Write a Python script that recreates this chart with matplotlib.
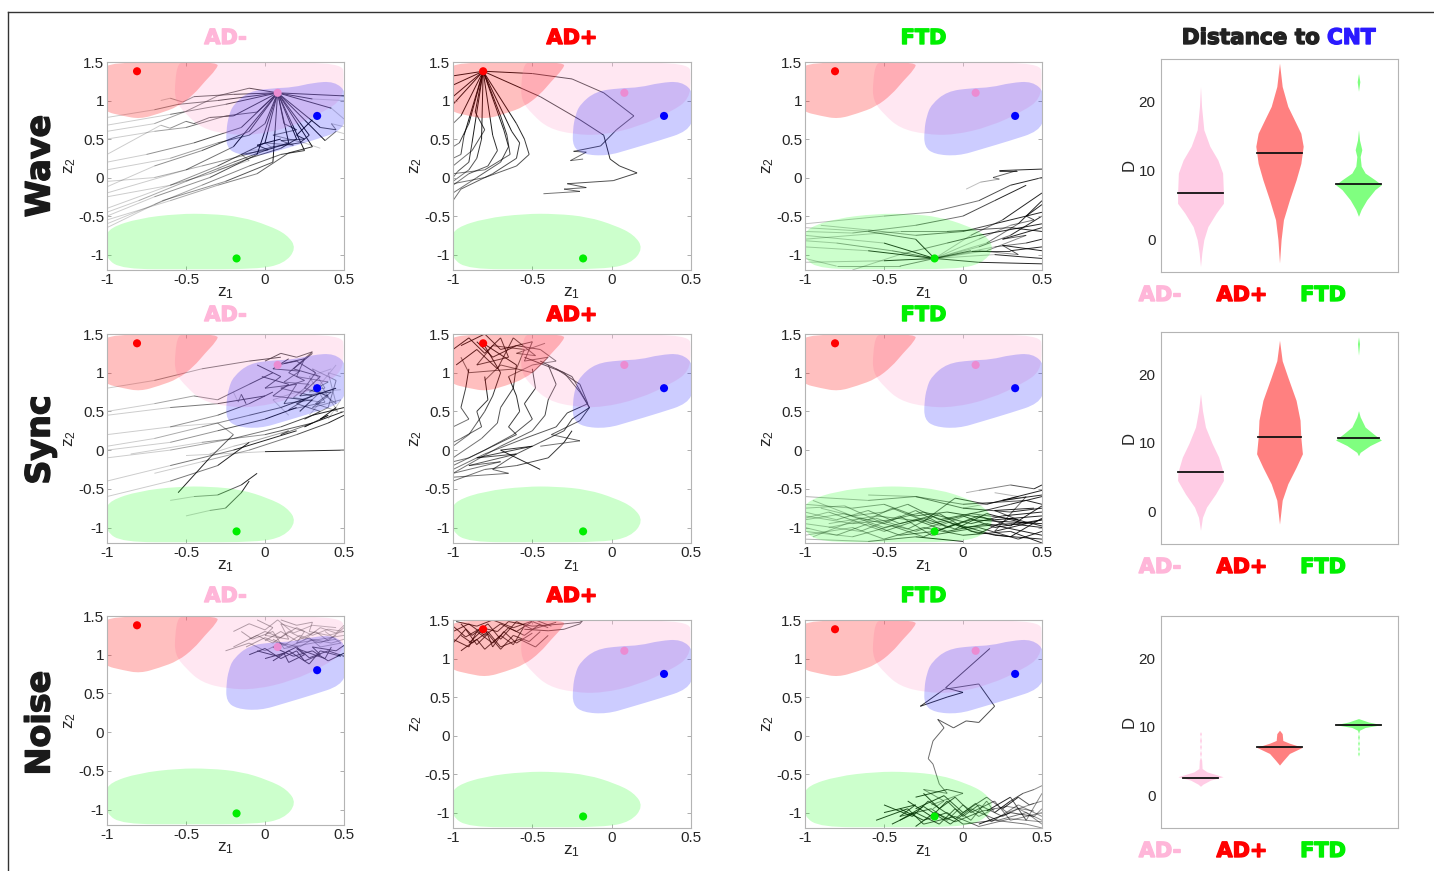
import numpy as np
import matplotlib
matplotlib.use("Agg")
import matplotlib.pyplot as plt
import matplotlib.patheffects as pe
from matplotlib.path import Path
from matplotlib.patches import PathPatch
from matplotlib.collections import LineCollection
from matplotlib.lines import Line2D

W, H = 1434, 871
plt.rcParams["font.family"] = ["Liberation Sans", "DejaVu Sans"]
plt.rcParams["mathtext.default"] = "regular"


def heavy(color, stroke=1.0):
    # bold DejaVu plus a thin stroke to get closer to the very heavy titles
    return dict(family=["DejaVu Sans"], fontweight="bold", color=color,
                path_effects=[pe.withStroke(linewidth=stroke, foreground=color)])


ROWS = ["Wave", "Sync", "Noise"]
GROUPS = ["AD-", "AD+", "FTD"]
GROUP_COLORS = ["#FFB6D9", "#FF0000", "#00F000"]
VIOLIN_COLORS = ["#FFCCE5", "#FF8080", "#80FF80"]

# centroids in (z1, z2): AD+, AD-, CNT, FTD
CENT_Z1 = [-0.81, 0.08, 0.33, -0.18]
CENT_Z2 = [1.38, 1.10, 0.80, -1.05]
CENT_COLORS = ["#FF0000", "#EB8CD2", "#0000FF", "#00EE00"]

# region outlines (control points of a smooth closed curve)
PINK_Z1 = [-0.50, 0.00, 0.49, 0.50, 0.49, 0.38, 0.17, -0.06, -0.24, -0.40, -0.50, -0.57, -0.57, -0.55]
PINK_Z2 = [1.49, 1.49, 1.49, 1.30, 1.02, 0.86, 0.66, 0.55, 0.56, 0.64, 0.82, 1.00, 1.25, 1.49]
RED_Z1 = [-1.02, -0.65, -0.29, -0.31, -0.38, -0.45, -0.55, -0.67, -0.79, -0.90, -1.02, -1.03, -1.03]
RED_Z2 = [1.49, 1.49, 1.50, 1.40, 1.25, 1.08, 0.92, 0.83, 0.76, 0.80, 0.86, 1.00, 1.30]
BLUE_Z1 = [-0.20, -0.10, 0.05, 0.18, 0.30, 0.44, 0.52, 0.52, 0.48, 0.30, 0.12, -0.03, -0.18, -0.245, -0.245, -0.23]
BLUE_Z2 = [0.95, 1.12, 1.16, 1.17, 1.23, 1.25, 1.10, 0.80, 0.60, 0.48, 0.37, 0.28, 0.30, 0.40, 0.62, 0.80]
GREEN_Z1 = [-0.98, -0.80, -0.55, -0.35, -0.15, 0.02, 0.14, 0.20, 0.12, -0.05, -0.50, -0.90, -1.01, -1.01]
GREEN_Z2 = [-0.65, -0.53, -0.47, -0.47, -0.51, -0.62, -0.74, -0.92, -1.12, -1.19, -1.19, -1.19, -1.05, -0.78]

# trajectories, each listed from its dark (recent) end
WAVE_ADM = [
    [(0.08, 1.10), (0.42, 0.90), (0.50, 0.76)],
    [(0.08, 1.10), (0.30, 1.02), (0.50, 1.00)],
    [(0.08, 1.10), (0.50, 1.06)],
    [(0.08, 1.10), (0.35, 0.65), (0.45, 0.62), (0.42, 0.70), (0.50, 0.66)],
    [(0.08, 1.10), (0.38, 0.48), (0.45, 0.60), (0.50, 0.57)],
    [(0.08, 1.10), (0.28, 0.55), (0.22, 0.45), (0.05, 0.40), (-0.15, 0.28), (-0.40, 0.15), (-0.70, 0.00), (-1.00, -0.05)],
    [(0.08, 1.10), (0.20, 0.50), (0.10, 0.38), (-0.10, 0.25), (-0.35, 0.05), (-0.60, -0.10), (-1.00, -0.25)],
    [(0.08, 1.10), (0.00, 0.70), (-0.10, 0.55), (-0.30, 0.45), (-0.60, 0.25), (-1.00, 0.10)],
    [(0.08, 1.10), (-0.05, 0.85), (-0.25, 0.80), (-0.50, 0.65), (-0.70, 0.60), (-1.00, 0.50)],
    [(0.08, 1.10), (-0.30, 1.00), (-0.55, 0.95), (-0.70, 0.88), (-1.00, 0.78)],
    [(0.08, 1.10), (-0.20, 1.08), (-0.45, 1.05), (-0.52, 0.98), (-0.60, 1.03), (-0.66, 1.00)],
    [(0.08, 1.10), (0.15, 0.45), (0.00, 0.35), (-0.20, 0.20), (-0.50, -0.05), (-0.80, -0.30), (-1.00, -0.45)],
    [(0.08, 1.10), (0.25, 0.35), (0.10, 0.30), (-0.10, 0.15), (-0.40, -0.10), (-0.70, -0.35), (-1.00, -0.60)],
    [(0.08, 1.10), (0.30, 0.40), (0.15, 0.32), (-0.05, 0.05), (-0.30, -0.10), (-0.60, -0.30), (-1.00, -0.55)],
    [(0.08, 1.10), (-0.10, 1.16), (-0.30, 1.06), (-0.50, 0.86), (-0.70, 0.70), (-1.00, 0.60)],
    [(0.08, 1.10), (-0.20, 0.80), (-0.35, 0.78), (-0.45, 0.70), (-0.50, 0.73), (-0.60, 0.64), (-0.66, 0.68), (-1.00, 0.30)],
    [(0.08, 1.10), (0.00, 0.45), (-0.30, 0.15), (-0.60, -0.10), (-1.00, -0.40)],
    [(0.08, 1.10), (-0.20, 0.40), (-0.50, 0.10), (-1.00, -0.20)],
    [(0.30, 0.75), (0.20, 0.55), (0.25, 0.50), (0.10, 0.48), (0.18, 0.42), (0.00, 0.45), (0.05, 0.38), (-0.10, 0.35)],
    [(0.08, 1.10), (0.12, 0.70), (0.20, 0.62), (0.05, 0.55), (0.25, 0.45), (0.35, 0.38)],
    [(0.08, 1.10), (-0.10, 0.60), (-0.40, 0.35), (-0.70, 0.15), (-1.00, -0.12)],
    [(0.08, 1.10), (-0.15, 0.65), (-0.45, 0.45), (-0.75, 0.30), (-1.00, 0.20)],
    [(0.08, 1.10), (-0.05, 0.30), (-0.35, 0.00), (-0.70, -0.25), (-1.00, -0.50)],
    [(0.08, 1.10), (-0.25, 0.95), (-0.60, 0.82), (-1.00, 0.68)],
    [(0.08, 1.10), (0.05, 0.20), (-0.25, -0.05), (-0.65, -0.30), (-1.00, -0.65)],
    [(0.10, 0.50), (-0.05, 0.42), (0.02, 0.36), (-0.15, 0.30), (-0.10, 0.22), (-0.30, 0.10)],
]
WAVE_ADP = [
    [(-0.81, 1.38), (-1.00, 1.32)],
    [(-0.81, 1.38), (-1.00, 1.20)],
    [(-0.81, 1.38), (-1.00, 1.05)],
    [(-0.81, 1.38), (-1.00, 0.95)],
    [(-0.81, 1.38), (-0.95, 0.80), (-1.00, 0.70)],
    [(-0.81, 1.38), (-0.90, 0.70), (-0.96, 0.45), (-1.00, 0.40)],
    [(-0.81, 1.38), (-0.93, 0.55), (-0.95, 0.30), (-1.00, 0.25)],
    [(-0.81, 1.38), (-0.88, 0.45), (-0.90, 0.20), (-0.97, 0.08), (-1.00, 0.00)],
    [(-0.81, 1.38), (-0.82, 0.50), (-0.85, 0.25), (-0.90, 0.10), (-1.00, -0.05)],
    [(-0.81, 1.38), (-0.75, 0.55), (-0.72, 0.35), (-0.78, 0.15), (-0.90, 0.05), (-1.00, -0.10)],
    [(-0.81, 1.38), (-0.68, 0.62), (-0.65, 0.40), (-0.70, 0.20), (-0.85, 0.00), (-1.00, -0.20)],
    [(-0.81, 1.38), (-0.63, 0.60), (-0.58, 0.45), (-0.60, 0.25), (-0.75, 0.05), (-0.95, -0.15), (-1.00, -0.30)],
    [(-0.81, 1.38), (-0.60, 0.70), (-0.55, 0.50), (-0.52, 0.30), (-0.60, 0.15), (-0.80, 0.00), (-1.00, -0.08)],
    [(-0.81, 1.38), (-0.70, 0.80), (-0.66, 0.55), (-0.64, 0.30), (-0.80, 0.10), (-1.00, 0.05)],
    [(-0.81, 1.38), (-0.86, 0.85), (-0.80, 0.62), (-0.88, 0.35), (-1.00, 0.15)],
    [(-0.81, 1.38), (-0.50, 1.35), (-0.25, 1.28), (-0.05, 1.10), (0.14, 0.80), (0.03, 0.62), (-0.07, 0.41),
     (-0.24, 0.34), (-0.16, 0.33), (-0.26, 0.22), (-0.18, 0.24)],
    [(-0.81, 1.38), (-0.45, 1.05), (-0.20, 0.75), (-0.05, 0.55), (-0.01, 0.24), (0.05, 0.15), (0.16, 0.06),
     (0.01, -0.04), (-0.28, -0.08), (-0.16, -0.13), (-0.30, -0.15), (-0.20, -0.18), (-0.43, -0.21)],
]
WAVE_FTD = [
    [(0.50, 0.00), (0.30, -0.10), (0.10, -0.30), (-0.20, -0.45), (-0.50, -0.50), (-1.00, -0.60)],
    [(-0.18, -1.05), (-0.30, -0.80), (-0.60, -0.70), (-1.00, -0.65)],
    [(-0.18, -1.05), (-0.50, -0.85), (-1.00, -0.75)],
    [(-0.18, -1.05), (-0.60, -0.95), (-1.00, -0.90)],
    [(-0.18, -1.05), (-0.50, -1.08), (-1.00, -1.10)],
    [(0.50, -0.50), (0.30, -0.75), (0.10, -0.90), (-0.18, -1.05)],
    [(0.50, -0.30), (0.35, -0.60), (0.15, -0.85), (-0.18, -1.05)],
    [(0.50, -1.05), (0.20, -1.00), (-0.18, -1.05)],
    [(0.50, -0.80), (0.40, -0.85), (0.20, -0.90), (-0.18, -1.05)],
    [(0.50, -0.20), (0.25, -0.55), (0.05, -0.75), (-0.18, -1.05)],
    [(0.50, -1.12), (0.10, -1.10), (-0.18, -1.05), (-0.45, -0.95), (-0.80, -0.85), (-1.00, -0.82)],
    [(0.50, -0.45), (0.20, -0.60), (0.00, -0.70), (-0.30, -0.75), (-0.60, -0.68), (-0.90, -0.62)],
    [(0.50, 0.11), (0.23, 0.09), (0.34, 0.09), (0.19, 0.00), (0.23, -0.02), (0.11, -0.06), (0.02, -0.15)],
    [(0.50, -0.60), (0.10, -0.75), (-0.10, -0.85), (-0.40, -1.00), (-0.70, -1.20)],
    [(0.50, -0.70), (0.30, -0.65), (-0.10, -0.70), (-0.40, -0.70), (-1.00, -0.80)],
    [(0.50, -0.90), (0.30, -0.95), (0.05, -0.95), (-0.18, -1.05), (-0.40, -1.15), (-0.80, -1.15), (-1.00, -1.05)],
    [(0.50, -0.35), (0.40, -0.50), (0.45, -0.55), (0.30, -0.62), (0.10, -0.80), (-0.18, -1.05)],
    [(0.50, -0.65), (0.25, -0.80), (0.40, -0.75), (0.15, -0.95), (-0.18, -1.05)],
    [(0.40, -0.10), (0.20, -0.30), (0.00, -0.50), (-0.30, -0.62), (-0.70, -0.72), (-1.00, -0.70)],
    [(0.50, -0.95), (0.25, -0.88), (0.35, -1.00), (0.10, -0.95), (-0.18, -1.05)],
]
SYNC_ADM = [
    [(0.00, 1.15), (0.10, 1.25), (0.20, 1.20), (0.30, 1.27), (0.15, 1.00), (0.25, 0.90), (0.10, 0.80), (0.30, 0.70),
     (0.20, 0.60), (0.35, 0.50), (0.25, 0.40), (0.40, 0.55), (0.45, 0.90), (0.30, 1.05), (0.38, 0.80), (0.20, 0.75),
     (0.05, 0.65), (0.15, 0.45)],
    [(-0.05, 1.10), (0.10, 0.95), (0.00, 0.80), (0.20, 0.85), (0.12, 0.60), (0.30, 0.65), (0.22, 0.50), (0.35, 0.75),
     (0.45, 0.60), (0.40, 1.00), (0.48, 0.95)],
    [(0.08, 1.10), (0.20, 1.15), (0.32, 1.00), (0.25, 0.80), (0.40, 0.70), (0.30, 0.55), (0.48, 0.65), (0.40, 0.40)],
    [(0.15, 1.18), (0.05, 1.05), (0.22, 1.02), (0.12, 0.88), (0.28, 0.85), (0.18, 0.68), (0.35, 0.62), (0.28, 0.45)],
    [(0.30, 1.25), (0.18, 1.05), (0.35, 0.95), (0.22, 0.70), (0.42, 0.75), (0.32, 0.60), (0.46, 0.50), (0.35, 0.85),
     (0.45, 1.10)],
    [(-0.02, 0.95), (0.15, 0.85), (0.05, 0.70), (0.25, 0.65), (0.15, 0.52), (0.38, 0.62), (0.28, 0.95), (0.42, 1.05)],
    [(0.12, 1.12), (0.25, 1.18), (0.20, 0.95), (0.40, 0.88), (0.28, 0.75), (0.48, 0.78)],
    [(0.10, 1.20), (-0.10, 1.15), (-0.40, 1.05), (-0.70, 0.90), (-1.00, 0.80)],
    [(0.05, 1.00), (-0.10, 0.85), (-0.30, 0.65), (-0.45, 0.70), (-0.70, 0.60), (-1.00, 0.50)],
    [(0.00, 0.70), (-0.30, 0.60), (-0.60, 0.55), (-1.00, 0.45)],
    [(0.05, 0.75), (-0.10, 0.60), (-0.30, 0.45), (-0.60, 0.30), (-1.00, 0.20)],
    [(0.20, 0.55), (0.00, 0.40), (-0.30, 0.25), (-0.60, 0.10), (-1.00, 0.00)],
    [(0.50, 0.55), (0.30, 0.45), (0.10, 0.30), (-0.20, 0.15), (-0.60, 0.00), (-1.00, -0.10)],
    [(0.50, 0.50), (0.30, 0.35), (0.00, 0.20), (-0.40, 0.10), (-0.85, -0.05)],
    [(0.50, 0.45), (0.40, 0.35), (0.20, 0.20), (-0.10, 0.00), (-0.40, -0.15), (-0.70, -0.30)],
    [(0.50, 0.00), (0.00, -0.02), (-0.50, -0.07)],
    [(0.20, 0.25), (-0.20, 0.00), (-0.60, -0.20), (-1.00, -0.40)],
    [(-0.10, 0.10), (-0.30, -0.20), (-0.60, -0.40), (-1.00, -0.60)],
    [(-0.05, -0.30), (-0.15, -0.45), (-0.30, -0.58), (-0.45, -0.60), (-0.60, -0.65)],
    [(-0.10, -0.40), (-0.15, -0.55), (-0.25, -0.75), (-0.35, -0.78), (-0.50, -0.85)],
    [(-0.55, -0.55), (-0.35, -0.10), (-0.20, 0.20), (-0.30, 0.35), (-0.60, 0.30)],
    [(-0.12, 0.60), (-0.15, 0.72), (-0.17, 0.62), (-0.20, 0.75)],
    [(0.45, 0.80), (0.30, 0.70), (0.10, 0.55), (-0.10, 0.45), (-0.40, 0.30), (-0.70, 0.15), (-1.00, 0.05)],
    [(0.45, 0.55), (0.35, 0.40), (0.40, 0.45), (0.25, 0.30), (0.30, 0.35), (0.10, 0.20), (0.15, 0.25), (-0.10, 0.10),
     (-0.20, 0.05), (-0.35, -0.05)],
]
SYNC_ADP = [
    [(-1.00, 1.30), (-0.90, 1.45), (-0.80, 1.25), (-0.70, 1.45), (-0.65, 1.20), (-0.85, 1.10), (-0.75, 1.35),
     (-0.55, 1.30), (-0.60, 1.05), (-0.90, 1.00), (-0.95, 1.20)],
    [(-0.95, 1.35), (-0.80, 1.50), (-0.70, 1.30), (-0.50, 1.40), (-0.55, 1.15), (-0.40, 1.20), (-0.50, 1.00),
     (-0.70, 1.10), (-0.80, 0.90)],
    [(-0.85, 1.40), (-0.75, 1.20), (-0.60, 1.35), (-0.45, 1.30), (-0.35, 1.15), (-0.50, 1.10), (-0.65, 0.95)],
    [(-0.98, 1.10), (-0.85, 1.30), (-0.72, 1.05), (-0.62, 1.45), (-0.48, 1.22), (-0.60, 1.25), (-0.42, 1.38)],
    [(-0.81, 1.38), (-0.70, 1.00), (-0.75, 0.70), (-0.80, 0.50), (-0.85, 0.35), (-0.90, 0.20), (-1.00, 0.05)],
    [(-0.81, 1.38), (-0.60, 1.10), (-0.62, 0.80), (-0.70, 0.55), (-0.72, 0.35), (-0.82, 0.15), (-1.00, -0.10)],
    [(-0.50, 1.05), (-0.48, 0.80), (-0.55, 0.60), (-0.50, 0.40), (-0.62, 0.20), (-0.80, 0.00), (-1.00, -0.20)],
    [(-0.40, 1.10), (-0.35, 0.85), (-0.40, 0.65), (-0.42, 0.45), (-0.50, 0.25), (-0.70, 0.05), (-1.00, -0.30)],
    [(-0.45, 1.15), (-0.25, 0.95), (-0.14, 0.55), (-0.25, 0.40), (-0.30, 0.25), (-0.45, 0.10), (-0.60, -0.05),
     (-0.75, -0.25), (-0.65, -0.30), (-1.00, -0.35)],
    [(-0.55, 1.20), (-0.30, 1.00), (-0.20, 0.75), (-0.14, 0.55), (-0.20, 0.38), (-0.38, 0.20), (-0.20, 0.12),
     (-0.45, 0.05)],
    [(-0.90, 1.05), (-0.92, 0.80), (-0.95, 0.55), (-0.90, 0.40), (-1.00, 0.30)],
    [(-0.80, 0.95), (-0.78, 0.65), (-0.85, 0.50), (-0.82, 0.30), (-0.95, 0.15), (-1.00, 0.10)],
    [(-0.65, 0.95), (-0.60, 0.70), (-0.58, 0.50), (-0.65, 0.30), (-0.60, 0.20), (-0.75, 0.05), (-0.90, -0.10),
     (-1.00, -0.15)],
    [(-0.45, -0.25), (-0.70, 0.00), (-0.50, 0.05), (-0.85, -0.10), (-0.60, -0.05), (-0.90, -0.20), (-0.70, -0.15),
     (-1.00, -0.30)],
    [(-0.25, 0.25), (-0.30, 0.10), (-0.40, -0.10), (-0.60, -0.20), (-0.80, -0.25), (-1.00, -0.40)],
    [(-0.35, 1.05), (-0.20, 0.85), (-0.15, 0.60), (-0.28, 0.48), (-0.35, 0.30), (-0.55, 0.15), (-0.80, -0.05),
     (-1.00, -0.25)],
]
SYNC_FTD = [
    [(0.50, -0.75), (0.30, -0.80), (0.00, -0.75), (-0.30, -0.60), (-0.60, -0.65), (-1.00, -0.60)],
    [(0.50, -0.85), (0.20, -0.90), (-0.10, -0.80), (-0.30, -0.85), (-0.50, -0.70), (-0.70, -0.75), (-1.00, -0.70)],
    [(0.50, -1.00), (0.30, -0.95), (0.00, -1.00), (-0.20, -0.85), (-0.40, -0.95), (-0.60, -0.78), (-0.80, -0.90),
     (-1.00, -0.80)],
    [(0.50, -1.10), (0.15, -0.95), (-0.10, -1.05), (-0.30, -0.90), (-0.50, -1.00), (-0.75, -0.82), (-1.00, -0.90)],
    [(0.50, -0.95), (0.05, -0.90), (-0.18, -1.05), (-0.40, -1.10), (-0.60, -0.95), (-0.80, -1.10), (-1.00, -1.00)],
    [(0.50, -1.20), (0.30, -1.05), (0.00, -1.10), (-0.25, -1.00), (-0.50, -1.15), (-0.70, -1.00), (-1.00, -1.10)],
    [(0.50, -0.60), (0.30, -0.70), (0.10, -0.80), (-0.15, -0.90), (-0.35, -0.70), (-0.50, -0.80), (-0.70, -0.85),
     (-0.95, -0.65)],
    [(0.50, -0.90), (0.20, -1.00), (0.00, -0.85), (-0.20, -0.95), (-0.45, -0.75), (-0.60, -0.90), (-0.90, -0.75)],
    [(0.50, -1.05), (0.35, -1.15), (0.10, -1.00), (-0.20, -1.10), (-0.40, -0.85), (-0.65, -1.05), (-1.00, -0.95)],
    [(0.50, -0.45), (0.45, -0.50), (0.30, -0.45), (0.10, -0.52), (0.02, -0.55)],
    [(0.50, -0.58), (0.25, -0.65), (0.35, -0.60), (0.20, -0.55)],
    [(0.50, -0.70), (0.40, -0.65), (0.00, -0.70), (-0.30, -0.60), (-0.60, -0.58)],
    [(0.50, -0.90), (0.20, -1.05), (0.40, -0.60), (0.00, -0.75)],
    [(0.00, -1.18), (-0.30, -1.12), (-0.60, -1.18), (-1.00, -1.15)],
    [(0.50, -0.80), (0.25, -0.85), (0.05, -0.95), (-0.25, -0.80), (-0.45, -0.90), (-0.70, -0.95), (-1.00, -0.85)],
    [(0.50, -0.98), (0.30, -0.88), (0.10, -1.08), (-0.10, -0.92), (-0.30, -1.05), (-0.55, -0.88), (-0.85, -1.00)],
    [(0.45, -0.75), (0.20, -0.78), (0.35, -0.90), (0.05, -0.82), (-0.15, -0.98), (-0.35, -0.82)],
    [(0.50, -0.72), (0.30, -0.98), (0.10, -0.85), (-0.10, -1.00), (-0.30, -0.78), (-0.50, -0.95), (-0.75, -0.72),
     (-1.00, -0.75)],
    [(0.50, -1.15), (0.20, -1.10), (-0.05, -0.95), (-0.25, -1.12), (-0.45, -0.98), (-0.70, -1.12), (-1.00, -1.05)],
    [(0.50, -0.52), (0.15, -0.70), (-0.05, -0.62), (-0.25, -0.92), (-0.55, -0.85), (-0.85, -0.95)],
    [(0.40, -0.95), (0.15, -0.82), (-0.05, -1.02), (-0.25, -0.88), (-0.50, -1.05), (-0.85, -0.80), (-1.00, -0.88)],
    [(0.50, -0.88), (0.30, -1.12), (0.05, -1.05), (-0.15, -0.82), (-0.35, -1.02), (-0.65, -0.88), (-0.95, -1.12)],
]
NOISE_ADM = [
    [(-0.10, 1.20), (0.00, 1.30), (0.10, 1.22), (0.20, 1.35), (0.30, 1.25), (0.40, 1.33), (0.50, 1.30)],
    [(-0.20, 1.10), (-0.05, 1.25), (0.05, 1.15), (0.15, 1.30), (0.25, 1.20), (0.35, 1.35), (0.45, 1.28), (0.50, 1.38)],
    [(-0.05, 1.45), (0.05, 1.35), (0.00, 1.25), (0.15, 1.20), (0.10, 1.40), (0.25, 1.30), (0.20, 1.15), (0.35, 1.20),
     (0.50, 1.25)],
    [(-0.25, 1.05), (-0.10, 1.15), (0.00, 1.05), (0.10, 1.15), (0.22, 1.10), (0.30, 1.20), (0.42, 1.15), (0.50, 1.20)],
    [(0.10, 1.45), (0.20, 1.38), (0.30, 1.42), (0.28, 1.30), (0.40, 1.25), (0.50, 1.30)],
    [(-0.15, 1.30), (-0.08, 1.20), (0.05, 1.30), (0.12, 1.08), (0.30, 1.15), (0.45, 1.20)],
    [(0.05, 1.20), (0.15, 1.10), (0.28, 1.22), (0.35, 1.10), (0.48, 1.15), (0.38, 1.30)],
    [(-0.20, 1.30), (-0.10, 1.40), (0.00, 1.32), (0.08, 1.45), (0.18, 1.28), (0.30, 1.38), (0.45, 1.35)],
    [(0.00, 1.18), (0.10, 1.30), (0.20, 1.18), (0.32, 1.30), (0.40, 1.18), (0.50, 1.35)],
    [(-0.12, 1.10), (0.00, 1.22), (0.12, 1.12), (0.22, 1.25), (0.35, 1.15), (0.45, 1.25)],
]
NOISE_ADM_DARK = [
    [(-0.10, 1.00), (0.00, 1.08), (0.10, 0.95), (0.20, 1.05), (0.25, 0.92), (0.35, 1.00), (0.30, 1.10), (0.45, 1.05),
     (0.50, 1.12)],
    [(0.00, 0.95), (0.12, 1.02), (0.15, 0.90), (0.25, 1.00), (0.20, 1.08), (0.38, 0.95), (0.42, 1.10)],
    [(0.05, 1.10), (0.18, 0.98), (0.30, 1.05), (0.40, 0.92), (0.50, 1.02)],
    [(-0.05, 1.05), (0.08, 0.98), (0.20, 1.10), (0.28, 0.96), (0.40, 1.05), (0.50, 0.98)],
    [(0.05, 0.92), (0.15, 1.05), (0.28, 0.88), (0.35, 1.05), (0.48, 0.98)],
]
NOISE_ADP = [
    [(-1.00, 1.35), (-0.90, 1.45), (-0.80, 1.30), (-0.70, 1.45), (-0.60, 1.35), (-0.50, 1.48), (-0.40, 1.40)],
    [(-1.00, 1.25), (-0.90, 1.15), (-0.85, 1.35), (-0.75, 1.20), (-0.65, 1.40), (-0.55, 1.30), (-0.45, 1.45)],
    [(-0.95, 1.45), (-0.88, 1.30), (-0.78, 1.45), (-0.70, 1.25), (-0.60, 1.48), (-0.50, 1.38), (-0.35, 1.47)],
    [(-0.95, 1.10), (-0.85, 1.25), (-0.80, 1.12), (-0.70, 1.30), (-0.62, 1.18), (-0.55, 1.42)],
    [(-1.00, 1.42), (-0.92, 1.28), (-0.82, 1.40), (-0.72, 1.35), (-0.65, 1.48), (-0.50, 1.42), (-0.30, 1.45),
     (-0.20, 1.47), (-0.18, 1.50)],
    [(-0.55, 1.38), (-0.40, 1.36), (-0.30, 1.38), (-0.20, 1.45), (-0.18, 1.50)],
    [(-0.90, 1.20), (-0.80, 1.40), (-0.75, 1.15), (-0.68, 1.35), (-0.60, 1.20), (-0.50, 1.33)],
    [(-1.00, 1.20), (-0.92, 1.38), (-0.85, 1.18), (-0.78, 1.32), (-0.70, 1.12), (-0.62, 1.30), (-0.52, 1.22),
     (-0.45, 1.35)],
    [(-0.98, 1.48), (-0.85, 1.42), (-0.75, 1.50), (-0.62, 1.40), (-0.48, 1.50), (-0.38, 1.42)],
    [(-0.95, 1.30), (-0.88, 1.20), (-0.78, 1.35), (-0.70, 1.15), (-0.58, 1.25), (-0.48, 1.15), (-0.40, 1.30)],
]
NOISE_FTD = [
    [(0.17, 1.13), (-0.11, 0.62), (0.00, 0.56), (-0.10, 0.50), (-0.27, 0.38), (-0.12, 0.60), (0.10, 0.67), (0.20, 0.38),
     (0.10, 0.17), (0.02, 0.19), (-0.06, 0.10), (-0.16, 0.21), (-0.12, 0.10), (-0.19, -0.07), (-0.22, -0.30),
     (-0.19, -0.37), (-0.15, -0.63), (-0.10, -0.75), (-0.25, -0.70), (-0.12, -0.85), (-0.19, -0.95)],
    [(-0.50, -1.00), (-0.30, -0.90), (-0.40, -1.05), (-0.20, -0.95), (-0.10, -1.10), (0.00, -0.90), (0.10, -1.05),
     (0.20, -0.95)],
    [(-0.45, -1.15), (-0.30, -1.00), (-0.15, -1.15), (-0.05, -0.95), (0.05, -1.10), (0.15, -0.85), (0.20, -1.00)],
    [(-0.35, -0.85), (-0.20, -1.05), (-0.10, -0.85), (0.00, -1.05), (0.10, -0.90), (0.25, -1.05), (0.35, -0.95),
     (0.50, -1.10)],
    [(-0.25, -0.75), (-0.15, -0.95), (-0.05, -0.80), (0.05, -1.00), (0.20, -0.85), (0.30, -1.10), (0.50, -1.00)],
    [(-0.40, -0.95), (-0.25, -1.10), (-0.10, -1.00), (0.00, -1.15), (0.20, -1.10), (0.40, -1.15), (0.50, -1.20)],
    [(0.20, -1.00), (0.30, -0.85), (0.38, -0.75), (0.45, -0.70), (0.50, -0.65)],
    [(0.25, -0.95), (0.35, -0.80), (0.42, -0.90), (0.50, -0.85)],
    [(-0.30, -0.80), (-0.10, -0.70), (0.00, -0.75), (-0.20, -0.90)],
    [(0.10, -1.15), (0.30, -1.00), (0.45, -1.05), (0.50, -0.95)],
    [(-0.55, -1.10), (-0.35, -0.95), (-0.25, -1.15), (-0.05, -1.05), (0.10, -1.18), (0.30, -1.08), (0.50, -1.12)],
    [(-0.30, -1.18), (-0.18, -1.00), (-0.05, -1.12), (0.12, -0.98), (0.28, -0.92), (0.45, -0.98)],
    [(-0.50, -0.90), (-0.32, -1.05), (-0.22, -0.85), (-0.05, -1.08), (0.08, -0.88), (0.18, -1.12), (0.35, -0.90),
     (0.50, -1.05)],
    [(-0.40, -1.10), (-0.25, -0.92), (-0.08, -1.15), (0.05, -0.95), (0.22, -1.10), (0.40, -1.00), (0.50, -1.15)],
    [(-0.30, -0.95), (-0.12, -0.78), (0.00, -1.00), (0.15, -0.80), (0.28, -1.00), (0.45, -0.88)],
    [(0.15, -0.98), (0.30, -0.80), (0.40, -1.10), (0.50, -0.75)],
]

# violin profiles: D levels and half-widths (x units)
WAVE_D = [
    [22.2, 19.3, 15.9, 13.5, 11.5, 9.6, 6.7, 5.2, 3.8, 1.8, -0.1, -2.0, -4.0],
    [25.6, 22.2, 19.3, 17.3, 15.4, 13.5, 11.0, 8.6, 5.7, 2.8, -0.1, -3.5],
    [24.1, 22.9, 21.5, 20.7, 15.9, 14.4, 13.0, 12.0, 10.6, 9.6, 8.6, 7.9, 7.2, 5.7, 4.3, 3.3],
]
WAVE_HW = [
    [0.0, 0.013, 0.042, 0.118, 0.22, 0.28, 0.29, 0.29, 0.20, 0.093, 0.042, 0.017, 0.0],
    [0.0, 0.034, 0.105, 0.19, 0.27, 0.30, 0.27, 0.21, 0.126, 0.05, 0.02, 0.0],
    [0.0, 0.017, 0.0, 0.0, 0.0, 0.013, 0.042, 0.021, 0.034, 0.084, 0.21, 0.29, 0.21, 0.105, 0.034, 0.0],
]
SYNC_D = [
    [17.2, 14.7, 12.3, 9.9, 7.9, 5.7, 4.5, 2.5, 0.6, -0.9, -2.8],
    [25.0, 22.0, 19.6, 16.2, 13.3, 10.8, 8.4, 6.4, 4.0, 1.6, -1.9],
    [25.5, 24.5, 22.8, 14.7, 13.8, 12.3, 11.3, 10.4, 9.6, 8.6, 8.1],
]
SYNC_HW = [
    [0.0, 0.025, 0.063, 0.147, 0.23, 0.286, 0.29, 0.19, 0.076, 0.025, 0.0],
    [0.0, 0.034, 0.105, 0.21, 0.26, 0.27, 0.29, 0.21, 0.105, 0.034, 0.0],
    [0.0, 0.013, 0.0, 0.0, 0.021, 0.084, 0.19, 0.29, 0.147, 0.021, 0.0],
]
NOISE_D = [
    [9.3, 9.0, 8.6, 8.0, 7.5, 7.1, 6.6, 6.1, 5.6, 5.1, 3.9, 3.4, 2.7, 2.2, 1.6, 1.3],
    [9.5, 9.0, 8.0, 7.6, 7.0, 6.1, 5.1, 4.4],
    [11.2, 10.7, 10.3, 9.9, 9.5, 9.0, 8.5, 8.0, 7.6, 7.2, 6.8, 6.4, 6.1, 5.7, 5.4],
]
NOISE_HW = [
    [0.0, 0.012, 0.0, 0.012, 0.0, 0.012, 0.0, 0.012, 0.0, 0.015, 0.02, 0.084, 0.286, 0.126, 0.03, 0.0],
    [0.0, 0.034, 0.042, 0.126, 0.29, 0.126, 0.05, 0.0],
    [0.0, 0.126, 0.29, 0.084, 0.013, 0.0, 0.01, 0.0, 0.01, 0.0, 0.01, 0.0, 0.01, 0.0, 0.0],
]
MEDIANS = [[6.7, 12.5, 8.0], [5.7, 10.8, 10.7], [2.5, 7.0, 10.3]]

TRAJ = [[WAVE_ADM, WAVE_ADP, WAVE_FTD], [SYNC_ADM, SYNC_ADP, SYNC_FTD], [NOISE_ADM, NOISE_ADP, NOISE_FTD]]
FADE = [[(0.9, 0.2), (0.9, 0.55), (0.85, 0.25)],
        [(0.85, 0.2), (0.85, 0.55), (0.85, 0.3)],
        [(0.45, 0.35), (0.8, 0.7), (0.85, 0.45)]]
VD = [WAVE_D, SYNC_D, NOISE_D]
VW = [WAVE_HW, SYNC_HW, NOISE_HW]

# layout in pixels
COL_X = [(107, 344), (453, 691), (805, 1042)]
ROW_Y = [[(62, 270)] * 3, [(334, 543)] * 3, [(616, 825), (620, 828), (620, 828)]]
VIO_X = (1161, 1398)
VIO_Y = [(59, 272), (332, 544), (616, 828)]
TITLE_Y = [38, 315, 596]
ROW_LABEL_Y = [166, 440, 723]


def px_axes(fig, x0, x1, y0, y1):
    return fig.add_axes([x0 / W, 1 - y1 / H, (x1 - x0) / W, (y1 - y0) / H])


def smooth_blob(xs, ys):
    pts = np.column_stack([xs, ys])
    mids = (pts + np.roll(pts, -1, axis=0)) / 2
    verts, codes = [mids[-1]], [Path.MOVETO]
    for i in range(len(pts)):
        verts += [pts[i], mids[i]]
        codes += [Path.CURVE3, Path.CURVE3]
    return Path(verts, codes)


def draw_traj(ax, trajs, a0, a1, lw=0.7, color=(0, 0, 0)):
    segs, cols = [], []
    for t in trajs:
        t = np.asarray(t)
        k = len(t) - 1
        for i in range(k):
            segs.append(t[i:i + 2])
            a = a0 + (a1 - a0) * (i / max(k - 1, 1))
            cols.append((*color, a))
    ax.add_collection(LineCollection(segs, colors=cols, linewidths=lw, zorder=1))


fig = plt.figure(figsize=(W / 100, H / 100), dpi=100)

blobs = [(PINK_Z1, PINK_Z2, "#FFB6D9", 0.32), (RED_Z1, RED_Z2, "#FF0000", 0.25),
         (BLUE_Z1, BLUE_Z2, "#0000FF", 0.2), (GREEN_Z1, GREEN_Z2, "#00FF00", 0.2)]

for r in range(3):
    for c in range(3):
        (x0, x1), (y0, y1) = COL_X[c], ROW_Y[r][c]
        ax = px_axes(fig, x0, x1, y0, y1)
        a0, a1 = FADE[r][c]
        draw_traj(ax, TRAJ[r][c], a0, a1)
        if r == 2 and c == 0:
            draw_traj(ax, NOISE_ADM_DARK, 0.9, 0.8)
        for bx, by, col, al in blobs:
            ax.add_patch(PathPatch(smooth_blob(bx, by), facecolor=col, edgecolor="none", alpha=al, zorder=2))
        ax.scatter(CENT_Z1, CENT_Z2, s=34, c=CENT_COLORS, edgecolors="none", zorder=3)
        ax.set_xlim(-1, 0.5)
        ax.set_ylim(-1.2, 1.5)
        ax.set_xticks([-1, -0.5, 0, 0.5])
        ax.set_xticklabels(["-1", "-0.5", "0", "0.5"])
        ax.set_yticks([-1, -0.5, 0, 0.5, 1, 1.5])
        ax.set_yticklabels(["-1", "-0.5", "0", "0.5", "1", "1.5"])
        ax.tick_params(direction="in", top=True, right=True, length=3, width=0.6, color="#a0a0a0",
                       labelsize=11, labelcolor="#262626", pad=2)
        for s in ax.spines.values():
            s.set_color("#b4b4b4")
            s.set_linewidth(0.8)
        ax.set_xlabel("z$_1$", fontsize=12.5, labelpad=-1, color="#262626")
        ax.set_ylabel("z$_2$", fontsize=12.5, labelpad=0, color="#262626")
        fig.text((x0 + x1) / 2 / W, 1 - TITLE_Y[r] / H, GROUPS[c], ha="center", va="center",
                 fontsize=15, **heavy(GROUP_COLORS[c]))

    # violin panel
    ax = px_axes(fig, VIO_X[0], VIO_X[1], VIO_Y[r][0], VIO_Y[r][1])
    for g in range(3):
        d = np.asarray(VD[r][g])
        w = np.asarray(VW[r][g])
        ax.fill_betweenx(d, g + 1 - w, g + 1 + w, color=VIOLIN_COLORS[g], linewidth=0)
        m = MEDIANS[r][g]
        mw = np.interp(m, d[::-1], w[::-1])
        ax.plot([g + 1 - mw, g + 1 + mw], [m, m], color="#111111", lw=1.3)
    ax.set_xlim(0.5, 3.5)
    ax.set_ylim(-4.8, 26.2)
    ax.set_xticks([])
    ax.set_yticks([0, 10, 20])
    ax.tick_params(length=0, labelsize=11, labelcolor="#262626", pad=4)
    for s in ax.spines.values():
        s.set_color("#b4b4b4")
        s.set_linewidth(0.8)
    ax.set_ylabel("D", fontsize=12, labelpad=1, color="#262626")
    lab_y = VIO_Y[r][1] + 23
    for g, gx in enumerate([1160, 1242, 1323]):
        fig.text(gx / W, 1 - lab_y / H, GROUPS[g], ha="center", va="center",
                 fontsize=15, **heavy(GROUP_COLORS[g]))

    fig.text(40 / W, 1 - ROW_LABEL_Y[r] / H, ROWS[r], rotation=90, ha="center", va="center",
             fontsize=24, **heavy("#1a1a1a", 1.0))

fig.text(1327 / W, 1 - 38 / H, "Distance to ", ha="right", va="center", fontsize=15.5, **heavy("#222222"))
fig.text(1327 / W, 1 - 38 / H, "CNT", ha="left", va="center", fontsize=15.5, **heavy("#2A1AFF"))

# outer frame
fig.add_artist(Line2D([8 / W, 1], [1 - 12 / H, 1 - 12 / H], color="#333333", lw=1))
fig.add_artist(Line2D([8 / W, 8 / W], [0, 1 - 12 / H], color="#333333", lw=1))

fig.savefig("out.png", dpi=100)
